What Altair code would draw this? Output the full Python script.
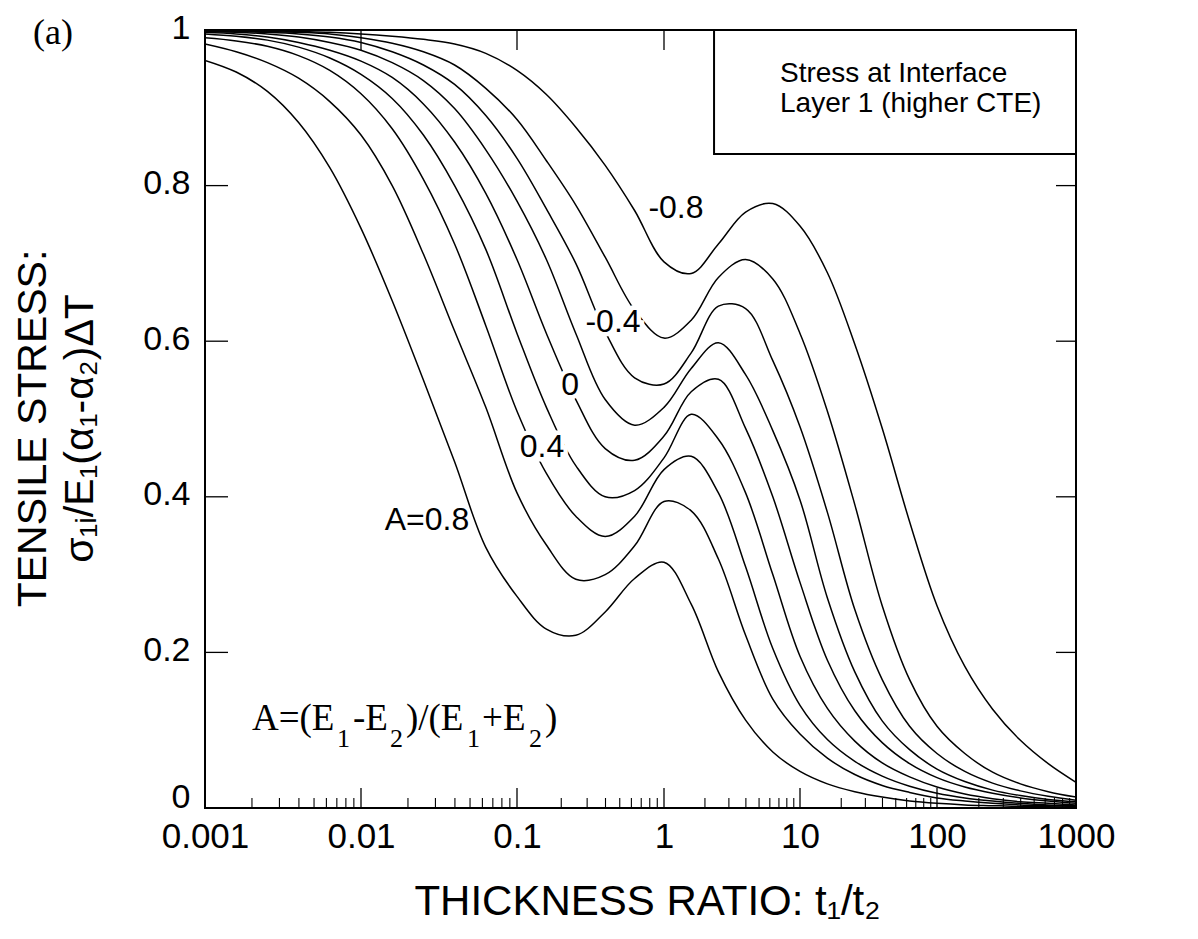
import math
import altair as alt
import pandas as pd

# ---- data; x is stored as log10(t1/t2) ----
LOG_T = [-3.0, -2.8, -2.6, -2.4, -2.2, -2.0, -1.8, -1.6, -1.4, -1.2, -1.0,
         -0.8, -0.6, -0.4, -0.2, 0.0, 0.2, 0.4, 0.6, 0.8, 1.0,
         1.2, 1.4, 1.6, 1.8, 2.0, 2.2, 2.4, 2.6, 2.8, 3.0]

A_VALUES = [-0.8, -0.6, -0.4, -0.2, 0.0, 0.2, 0.4, 0.6, 0.8]

S_M08 = [0.999, 0.999, 0.999, 0.998, 0.997, 0.995, 0.992, 0.988, 0.982, 0.970, 0.948,
         0.917, 0.875, 0.826, 0.768, 0.702, 0.687, 0.725, 0.766, 0.777, 0.748,
         0.688, 0.596, 0.488, 0.368, 0.260, 0.182, 0.127, 0.087, 0.057, 0.033]
S_M06 = [0.999, 0.999, 0.998, 0.997, 0.995, 0.990, 0.983, 0.972, 0.955, 0.925, 0.885,
         0.832, 0.775, 0.708, 0.640, 0.604, 0.627, 0.682, 0.705, 0.680, 0.610,
         0.510, 0.390, 0.260, 0.165, 0.105, 0.070, 0.046, 0.031, 0.021, 0.014]
S_M04 = [0.999, 0.998, 0.997, 0.995, 0.991, 0.984, 0.972, 0.955, 0.930, 0.890, 0.835,
         0.770, 0.700, 0.612, 0.553, 0.545, 0.585, 0.645, 0.642, 0.575, 0.490,
         0.380, 0.255, 0.165, 0.105, 0.070, 0.047, 0.032, 0.022, 0.015, 0.010]
S_M02 = [0.998, 0.997, 0.995, 0.991, 0.984, 0.974, 0.958, 0.935, 0.899, 0.846, 0.780,
         0.705, 0.610, 0.525, 0.492, 0.515, 0.565, 0.598, 0.557, 0.485, 0.396,
         0.270, 0.175, 0.112, 0.075, 0.050, 0.034, 0.023, 0.016, 0.011, 0.008]
S_000 = [0.997, 0.995, 0.991, 0.984, 0.974, 0.960, 0.939, 0.905, 0.856, 0.790, 0.705,
         0.610, 0.525, 0.462, 0.447, 0.478, 0.535, 0.551, 0.488, 0.400, 0.290,
         0.190, 0.125, 0.084, 0.057, 0.039, 0.027, 0.019, 0.013, 0.009, 0.006]
S_P02 = [0.995, 0.992, 0.987, 0.978, 0.964, 0.943, 0.912, 0.865, 0.800, 0.718, 0.610,
         0.515, 0.440, 0.400, 0.408, 0.450, 0.506, 0.474, 0.405, 0.300, 0.195,
         0.128, 0.086, 0.058, 0.040, 0.027, 0.018, 0.012, 0.008, 0.006, 0.004]
S_P04 = [0.990, 0.986, 0.979, 0.967, 0.948, 0.918, 0.873, 0.808, 0.725, 0.620, 0.510,
         0.430, 0.375, 0.349, 0.375, 0.435, 0.452, 0.405, 0.310, 0.205, 0.132,
         0.088, 0.060, 0.041, 0.028, 0.019, 0.013, 0.009, 0.006, 0.004, 0.003]
S_P06 = [0.982, 0.972, 0.958, 0.938, 0.908, 0.865, 0.800, 0.712, 0.613, 0.515, 0.405,
         0.338, 0.294, 0.300, 0.337, 0.394, 0.382, 0.320, 0.222, 0.140, 0.095,
         0.064, 0.043, 0.029, 0.020, 0.013, 0.009, 0.006, 0.004, 0.003, 0.002]
S_P08 = [0.961, 0.946, 0.921, 0.881, 0.823, 0.745, 0.652, 0.550, 0.445, 0.335, 0.272,
         0.230, 0.222, 0.252, 0.295, 0.316, 0.262, 0.175, 0.113, 0.072, 0.047,
         0.031, 0.021, 0.014, 0.009, 0.006, 0.004, 0.003, 0.002, 0.0015, 0.001]

SERIES = [S_M08, S_M06, S_M04, S_M02, S_000, S_P02, S_P04, S_P06, S_P08]

X_DECADES = [-3, -2, -1, 0, 1, 2, 3]            # log10 of 0.001 ... 1000
X_MINOR_MULT = [2, 3, 4, 5, 6, 7, 8, 9]
Y_TICKS = [0, 0.2, 0.4, 0.6, 0.8, 1.0]
# pixel position of each decade on the printed (scanned) axis
X_DECADE_PX = [0, 156, 312, 459, 595, 732, 871]

# curve labels (halo = the line is broken under the text)
LABEL_TEXT = ["-0.8", "-0.4", "0", "0.4", "A=0.8"]
LABEL_LT = [0.088, -0.347, -0.639, -0.83, -1.577]
LABEL_S = [0.758, 0.612, 0.531, 0.451, 0.357]
LABEL_HALO = [False, True, True, True, False]

BOX_LT = [0.368, 3.0]
BOX_S = [0.8406, 1.0]
BOX_LINES = ["Stress at Interface", "Layer 1 (higher CTE)"]
BOX_LINE_S = [0.933, 0.895]
BOX_TEXT_LT = 0.853

# A=(E1-E2)/(E1+E2) written as pieces: main text and lowered subscripts
FORM_TEXT = ["A=(E", "1", "-E", "2", ")/(E", "1", "+E", "2", ")"]
FORM_SUB = [False, True, False, True, False, True, False, True, False]
FORM_LT = [-2.699, -2.154, -2.051, -1.814, -1.712, -1.321, -1.224, -0.918, -0.810]
FORM_S_MAIN = 0.100
FORM_S_SUB = 0.078

W, H = 871, 778
SANS = "Liberation Sans"
SERIF = "Liberation Serif"

# ---- tables ----
rows = []
for a, ys in zip(A_VALUES, SERIES):
    for lt, s in zip(LOG_T, ys):
        rows.append({"A": a, "lt": lt, "s": s})
curves = pd.DataFrame(rows)

minor = [d + math.log10(m) for d in X_DECADES[:-1] for m in X_MINOR_MULT]
major_df = pd.DataFrame({"lt": X_DECADES})
minor_df = pd.DataFrame({"lt": minor})
yticks = pd.DataFrame({"s": Y_TICKS})
labels = pd.DataFrame({"text": LABEL_TEXT, "lt": LABEL_LT, "s": LABEL_S, "halo": LABEL_HALO})
box = pd.DataFrame({"lt": [BOX_LT[0]], "lt2": [BOX_LT[1]], "s": [BOX_S[0]], "s2": [BOX_S[1]]})
box_text = pd.DataFrame({"text": BOX_LINES, "lt": [BOX_TEXT_LT] * 2, "s": BOX_LINE_S})
form_df = pd.DataFrame({"text": FORM_TEXT, "lt": FORM_LT, "sub": FORM_SUB,
                        "s": [FORM_S_SUB if b else FORM_S_MAIN for b in FORM_SUB]})

xs = alt.Scale(type="linear", domain=X_DECADES, range=X_DECADE_PX, nice=False, zero=False)
ys = alt.Scale(domain=[0, 1], nice=False, zero=False)

x_axis = alt.Axis(values=X_DECADES, labelExpr="format(pow(10, datum.value), '~g')",
                  grid=False, domain=False, ticks=False, tickSize=0,
                  labelFont=SANS, labelFontSize=35, labelColor="black",
                  labelPadding=11, labelFlush=False,
                  title="THICKNESS RATIO: t\u2081/t\u2082", titleFont=SANS, titleFontSize=42,
                  titleFontWeight="normal", titleColor="black", titleX=442, titleY=106,
                  titleBaseline="alphabetic", titleAlign="center")
y_axis = alt.Axis(values=Y_TICKS, format="~g", grid=False, domain=False, ticks=False,
                  tickSize=0, labelFont=SANS, labelFontSize=34, labelColor="black",
                  labelPadding=15, labelFlush=False,
                  labelOffset={"condition": {"test": "datum.value == 0", "value": -11},
                               "value": -2},
                  title=["TENSILE STRESS:",
                         "\u03c3\u2081\u1d62/E\u2081(\u03b1\u2081-\u03b1\u2082)\u0394T"],
                  titleFont=SANS, titleFontSize=41, titleFontWeight="normal",
                  titleColor="black", titleAngle=270, titleX=-160, titleY=H / 2 + 9,
                  titleBaseline="alphabetic", titleAlign="center", titleLineHeight=47)

X = lambda f: alt.X(f, type="quantitative", scale=xs, axis=x_axis)
Y = lambda f: alt.Y(f, type="quantitative", scale=ys, axis=y_axis)

lines = alt.Chart(curves).mark_line(color="black", strokeWidth=1.5,
                                    interpolate="catmull-rom", clip=True).encode(
    x=X("lt"), y=Y("s"), detail="A:N")

bottom_major = alt.Chart(major_df).mark_rule(color="black", strokeWidth=1.3).encode(
    x=X("lt"), y=alt.value(H - 20), y2=alt.value(H))
bottom_minor = alt.Chart(minor_df).mark_rule(color="black", strokeWidth=1.1).encode(
    x=X("lt"), y=alt.value(H - 10), y2=alt.value(H))
top_major = alt.Chart(major_df).mark_rule(color="black", strokeWidth=1.3).encode(
    x=X("lt"), y=alt.value(0), y2=alt.value(20))
left_ticks = alt.Chart(yticks).mark_rule(color="black", strokeWidth=1.3).encode(
    y=Y("s"), x=alt.value(0), x2=alt.value(23))
right_ticks = alt.Chart(yticks).mark_rule(color="black", strokeWidth=1.3).encode(
    y=Y("s"), x=alt.value(W - 20), x2=alt.value(W))

halo = alt.Chart(labels).transform_filter("datum.halo").mark_text(
    font=SANS, fontSize=32, align="center", baseline="alphabetic",
    stroke="white", strokeWidth=9, fill="white").encode(
    x=X("lt"), y=Y("s"), text="text:N")
label_text = alt.Chart(labels).mark_text(
    font=SANS, fontSize=32, align="center", baseline="alphabetic", color="black").encode(
    x=X("lt"), y=Y("s"), text="text:N")

box_rect = alt.Chart(box).mark_rect(fill="white", stroke="black", strokeWidth=2).encode(
    x=X("lt"), x2="lt2:Q", y=Y("s"), y2="s2:Q")
box_lbl = alt.Chart(box_text).mark_text(
    font=SANS, fontSize=28, align="left", baseline="alphabetic", color="black").encode(
    x=X("lt"), y=Y("s"), text="text:N")

form_main = alt.Chart(form_df).transform_filter("!datum.sub").mark_text(
    font=SERIF, fontSize=37, align="left", baseline="alphabetic", color="black").encode(
    x=X("lt"), y=Y("s"), text="text:N")
form_sub = alt.Chart(form_df).transform_filter("datum.sub").mark_text(
    font=SERIF, fontSize=26, align="left", baseline="alphabetic", color="black").encode(
    x=X("lt"), y=Y("s"), text="text:N")

panel_lbl = alt.Chart(pd.DataFrame({"text": ["(a)"]})).mark_text(
    font=SERIF, fontSize=36, align="left", baseline="alphabetic", color="black").encode(
    x=alt.value(-172), y=alt.value(14), text="text:N")

chart = alt.layer(
    lines, halo, label_text, bottom_major, bottom_minor, top_major,
    left_ticks, right_ticks, box_rect, box_lbl, form_main, form_sub, panel_lbl,
).properties(
    width=W, height=H,
    autosize=alt.AutoSizeParams(type="none"),
    padding={"left": 197, "top": 22, "right": 100, "bottom": 125},
    background="white",
).configure_view(stroke="black", strokeWidth=2)

chart.save("out.html", embed_options={"renderer": "svg", "actions": False})
